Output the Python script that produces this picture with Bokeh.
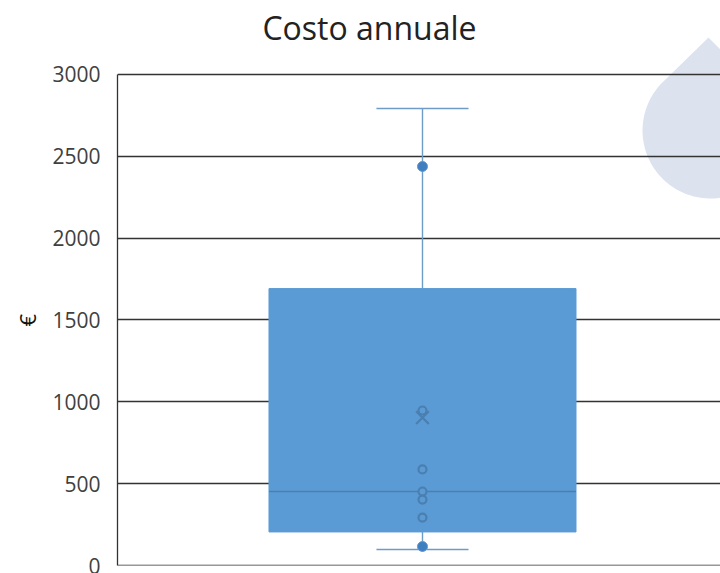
import numpy as np
from bokeh.embed import file_html
from bokeh.models import FixedTicker, Label, PolyAnnotation, Range1d, Span, Title
from bokeh.plotting import figure
from bokeh.resources import INLINE

# Data
title_text = "Costo annuale"
y_label = "€"
y_ticks = [0, 500, 1000, 1500, 2000, 2500, 3000]
q1 = 205
median = 452
q3 = 1692
whisker_low = 98
whisker_high = 2792
mean_value = 904
inner_points = [947, 587, 452, 403, 293]
outer_points = [2438, 116]

CENTER = 1.0
BOX_HALF = 0.4
CAP_HALF = 0.12

BOX = "#5B9BD5"
EDGE = "#4A7FB0"
WHISK = "#6E9CC6"
INK = "#404040"
GRID = "#333333"
DROP = "#DCE3EF"

# The plot frame fills the canvas height: the watermark rises above the 3000 line,
# and the axis is bounded to the printed 0-3000 scale.
p = figure(
    width=720, height=573, output_backend="svg", toolbar_location=None,
    x_range=Range1d(0.2052, 1.7766), y_range=Range1d(0, 3452.1),
    min_border_left=117, min_border_right=0, min_border_top=0, min_border_bottom=8,
    background_fill_color=None, border_fill_color="white",
)
p.outline_line_color = None
p.xaxis.visible = False
p.xgrid.visible = False

# Watermark drop (decoration behind the chart), in canvas pixels
arc = np.radians(np.linspace(228, 82, 60))
drop_x = [708.0] + [float(v) for v in 710 + 68 * np.cos(arc)] + [720.0, 720.0]
drop_y = [37.0] + [float(v) for v in 130 + 68 * np.sin(arc)] + [197.0, 49.0]
p.add_layout(PolyAnnotation(
    xs=drop_x, ys=drop_y, xs_units="canvas", ys_units="canvas",
    fill_color=DROP, fill_alpha=1, line_color=None, level="image",
    editable=False,
))

p.yaxis.ticker = FixedTicker(ticks=y_ticks)
p.yaxis.bounds = (y_ticks[0], y_ticks[-1])
p.ygrid.ticker = FixedTicker(ticks=y_ticks)
p.ygrid.grid_line_color = GRID
p.ygrid.grid_line_width = 1.3
p.add_layout(Span(location=y_ticks[0], dimension="width", line_color=GRID, line_width=1.3))
p.yaxis.axis_line_color = GRID
p.yaxis.axis_line_width = 1.3
p.yaxis.major_tick_line_color = None
p.yaxis.minor_tick_line_color = None
p.yaxis.major_label_text_font = "Open Sans"
p.yaxis.major_label_text_font_size = "21px"
p.yaxis.major_label_text_color = INK
p.yaxis.major_label_standoff = 11

# The unit sits beside the tick labels, level with the middle of the 0-3000 scale
p.add_layout(Title(
    text=y_label, align="left", offset=239, vertical_align="top", standoff=12,
    text_font="Open Sans", text_font_size="22px", text_font_style="normal",
    text_color="#111111",
), "left")

p.add_layout(Label(
    x=369, y=27, x_units="canvas", y_units="canvas", text=title_text,
    text_align="center", text_baseline="middle", text_font="Open Sans",
    text_font_size="32px", text_color="#222222",
))

p.segment([CENTER], [q3], [CENTER], [whisker_high], line_color=WHISK, line_width=1.4)
p.segment([CENTER], [whisker_low], [CENTER], [q1], line_color=WHISK, line_width=1.4)
p.segment([CENTER - CAP_HALF] * 2, [whisker_low, whisker_high],
          [CENTER + CAP_HALF] * 2, [whisker_low, whisker_high],
          line_color=WHISK, line_width=1.4)
p.quad(left=[CENTER - BOX_HALF], right=[CENTER + BOX_HALF], bottom=[q1], top=[q3],
       fill_color=BOX, line_color=BOX)
p.segment([CENTER - BOX_HALF], [median], [CENTER + BOX_HALF], [median],
          line_color=EDGE, line_width=1.3)
p.scatter([CENTER] * len(inner_points), inner_points, size=8, marker="circle",
          fill_color=BOX, line_color=EDGE, line_width=2.2)
p.scatter([CENTER] * len(outer_points), outer_points, size=10, marker="circle",
          fill_color="#3F7FBF", line_color="#5B9BD5", line_width=1)
p.scatter([CENTER], [mean_value], size=18, marker="x", line_color=EDGE, line_width=2.2)

open("out.html", "w").write(file_html(p, INLINE))
